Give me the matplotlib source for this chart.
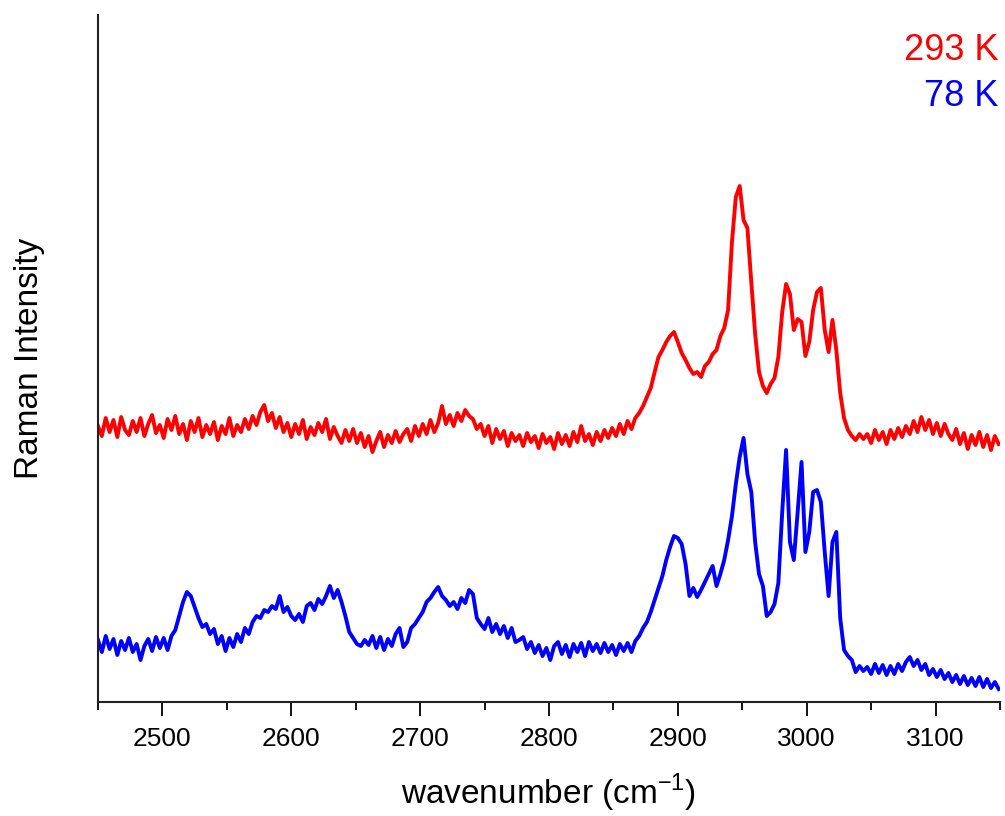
import matplotlib
matplotlib.use("Agg")
import matplotlib.pyplot as plt
import numpy as np
from matplotlib.ticker import MultipleLocator

plt.rcParams['font.family'] = ['Liberation Sans', 'DejaVu Sans']
plt.rcParams['mathtext.fontset'] = 'custom'
plt.rcParams['mathtext.rm'] = 'Liberation Sans'

# wavenumber grid (cm-1), one sample every 3 cm-1
wavenumber = np.arange(2450, 3150, 3)

# Raman intensity at 293 K (arbitrary units, offset trace)
intensity_293K = [
    276, 266, 284, 270, 282, 265, 285, 272, 267, 281,
    270, 284, 266, 278, 287, 269, 277, 264, 283, 272,
    286, 268, 278, 262, 281, 270, 284, 265, 277, 268,
    280, 262, 276, 268, 284, 266, 277, 270, 283, 273,
    286, 277, 290, 297, 281, 289, 274, 285, 270, 279,
    265, 278, 268, 282, 263, 275, 267, 279, 270, 283,
    263, 275, 266, 259, 272, 261, 273, 259, 269, 255,
    266, 250, 261, 270, 255, 267, 259, 271, 260, 268,
    273, 261, 276, 266, 278, 268, 282, 270, 279, 296,
    278, 287, 276, 289, 281, 292, 286, 283, 273, 278,
    266, 276, 259, 273, 263, 271, 256, 269, 261, 267,
    256, 269, 260, 266, 254, 268, 259, 265, 253, 269,
    258, 267, 256, 270, 260, 276, 261, 268, 257, 270,
    261, 272, 264, 274, 266, 278, 268, 281, 273, 284,
    289, 296, 305, 314, 330, 345, 352, 360, 366, 370,
    360, 349, 342, 334, 328, 330, 325, 336, 340, 348,
    352, 366, 374, 392, 460, 505, 516, 482, 474, 420,
    368, 330, 316, 309, 318, 324, 345, 390, 418, 408,
    372, 383, 380, 346, 360, 392, 410, 414, 372, 350,
    382, 352, 309, 284, 272, 266, 262, 268, 263, 268,
    259, 272, 262, 270, 258, 272, 263, 274, 265, 276,
    268, 281, 270, 285, 272, 282, 268, 279, 266, 278,
    268, 262, 273, 258, 269, 253, 267, 257, 270, 255,
    267, 252, 266, 258,
]

# Raman intensity at 78 K
intensity_78K = [
    62, 50, 66, 53, 63, 47, 61, 52, 64, 50,
    58, 42, 56, 63, 51, 65, 54, 64, 52, 66,
    72, 86, 100, 110, 106, 95, 84, 75, 78, 68,
    73, 58, 66, 51, 64, 55, 68, 60, 74, 68,
    80, 86, 84, 92, 90, 96, 93, 106, 90, 95,
    86, 82, 88, 80, 96, 99, 92, 103, 98, 106,
    116, 104, 112, 100, 86, 70, 64, 58, 56, 62,
    57, 66, 54, 65, 52, 63, 56, 68, 74, 55,
    60, 74, 78, 84, 90, 100, 104, 110, 115, 106,
    102, 96, 100, 93, 104, 99, 112, 108, 84, 78,
    73, 84, 70, 78, 68, 76, 64, 74, 60, 62,
    65, 53, 60, 49, 57, 46, 54, 42, 56, 60,
    48, 57, 45, 58, 50, 59, 46, 60, 51, 58,
    49, 59, 50, 57, 47, 58, 51, 59, 50, 61,
    66, 74, 80, 90, 102, 114, 126, 142, 155, 166,
    164, 158, 138, 106, 114, 105, 112, 120, 128, 136,
    116, 128, 142, 162, 186, 218, 245, 264, 228, 210,
    160, 128, 116, 86, 90, 98, 119, 190, 252, 160,
    142, 190, 240, 150, 170, 210, 212, 200, 150, 106,
    160, 170, 84, 52, 46, 42, 30, 36, 31, 35,
    28, 38, 29, 37, 27, 36, 28, 38, 31, 40,
    45, 36, 42, 32, 38, 27, 33, 25, 32, 23,
    29, 20, 27, 18, 26, 17, 24, 16, 25, 15,
    23, 14, 20, 13,
]

fig = plt.figure(figsize=(10.05, 8.16), dpi=100)
ax = fig.add_axes([0.0975, 0.1397, 0.8975, 0.8419])

ax.plot(wavenumber, intensity_293K, color='#ff0000', lw=2.8)
ax.plot(wavenumber, intensity_78K, color='#0000ff', lw=2.8)

ax.set_xlim(2450, 3150)
ax.set_ylim(0, 687)

ax.xaxis.set_major_locator(MultipleLocator(100))
ax.xaxis.set_minor_locator(MultipleLocator(50))
ax.tick_params(axis='x', which='major', length=10, width=1.3, labelsize=19, pad=8)
ax.tick_params(axis='x', which='minor', length=6, width=1.3)
ax.set_yticks([])

for side in ['top', 'right']:
    ax.spines[side].set_visible(False)
for side in ['left', 'bottom']:
    ax.spines[side].set_linewidth(1.5)
    ax.spines[side].set_color('#222222')

ax.set_xlabel('wavenumber (cm$^{-1}$)', fontsize=24, labelpad=15)
ax.set_ylabel('Raman Intensity', fontsize=24, labelpad=38)

ax.text(0.998, 0.949, '293 K', color='#ff0000', fontsize=26,
        ha='right', va='center', transform=ax.transAxes)
ax.text(0.998, 0.882, '78 K', color='#0000ff', fontsize=26,
        ha='right', va='center', transform=ax.transAxes)

plt.savefig('out.png', dpi=100)
